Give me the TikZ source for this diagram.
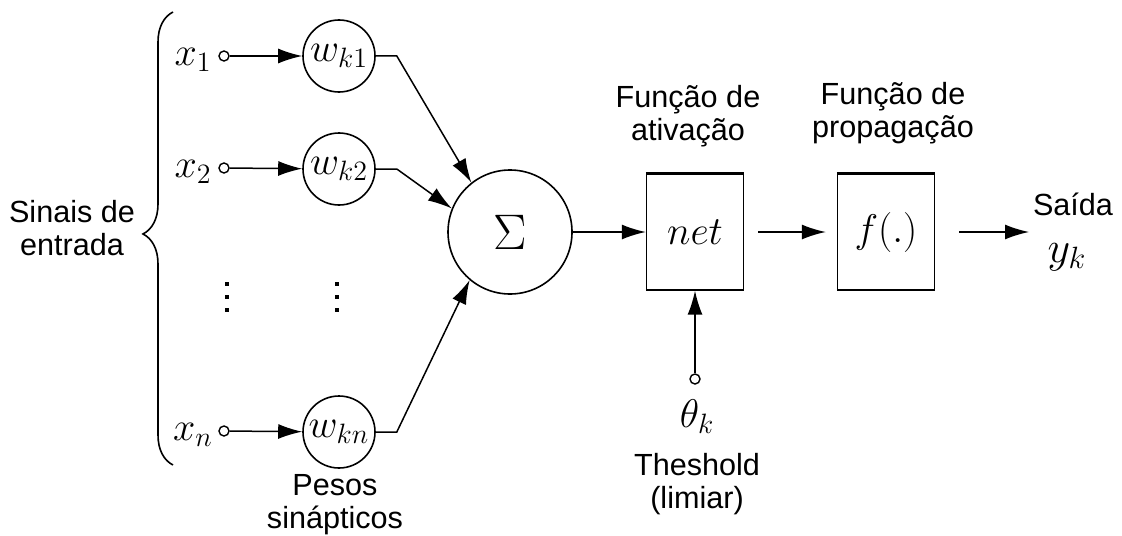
\documentclass[tikz,border=0pt]{standalone}
\usepackage{fix-cm}
\usepackage[no-math]{fontspec}
\newfontfamily\arialfont{Liberation Sans}
\usepackage{tikz}
\usetikzlibrary{shapes, arrows.meta, positioning, decorations.pathreplacing}

\begin{document}
\begin{tikzpicture}
  [
    x=0.5pt, y=-0.5pt,
    Weight/.style={circle, draw=black, line width=0.8pt, minimum size=36pt, inner sep=0pt},
    Sum/.style={circle, draw=black, line width=0.8pt, minimum size=62pt, inner sep=0pt},
    Box/.style={rectangle, draw=black, line width=0.7pt, minimum width=48.5pt, minimum height=58pt},
    Input/.style={circle, draw=black, line width=0.7pt, minimum size=5pt, inner sep=0pt},
    Label/.style={font=\arialfont\fontsize{15.3}{16.5}\selectfont, align=center, inner sep=0pt},
    Sym/.style={font=\fontsize{20}{20}\selectfont, inner sep=0pt},
    Arrow/.style={-{Latex[length=12pt, width=7.5pt]}, draw, line width=0.75pt}
  ]
  \useasboundingbox (0,0) rectangle (1122,535);
  % Nodes
  \node[Label] (sinais) at (72, 228) {Sinais de\\entrada};
  \node[Sym] (x1) at (193, 60) {$x_1$};
  \node[Sym] (x2) at (193, 172) {$x_2$};
  \node[Sym] (xn) at (193, 435) {$x_n$};
  \node[Input] (in1) at (224, 56) {};
  \node[Input] (in2) at (224, 168) {};
  \node[Input] (inn) at (224, 431) {};
  \node[Weight, Sym] (w1) at (339, 56) {$w_{k1}$};
  \node[Weight, Sym] (w2) at (339, 169) {$w_{k2}$};
  \node[Weight, Sym] (wn) at (339, 432) {$w_{kn}$};
  \node[Label] (pesos) at (335, 505) {Pesos\\sinápticos};
  \node[Sum, font=\fontsize{25}{25}\selectfont] (sum) at (510, 232) {$\Sigma$};
  \node[Box, Sym] (net) at (695, 232) {$net$};
  \node[Box, Sym] (f) at (886, 232) {$f(.)$};
  \node[Label] (ativacao) at (688, 116) {Função de\\ativação};
  \node[Label] (propagacao) at (893, 113) {Função de\\propagação};
  \node[Input] (thetain) at (695, 379) {};
  \node[Sym] (theta) at (697, 417) {$\theta_k$};
  \node[Label] (limiar) at (697, 484) {Theshold\\(limiar)};
  \node[Label] (saida) at (1073, 204) {Saída};
  \node[Sym, font=\fontsize{22}{22}\selectfont] (yk) at (1067, 257) {$y_k$};
  \coordinate (out) at (1029, 232);
  % Brace and dots
  \draw[decorate, decoration={brace, amplitude=15pt, aspect=0.51}, line width=0.8pt]
    (173, 465) -- (173, 12);
  \foreach \dx in {227, 337}
    \foreach \dy in {284, 297, 310}
      \fill (\dx-2, \dy-2) rectangle ++(4, 4);
  \draw[line width=1.5pt] (net.north west) -- (net.north east);
  \draw[line width=1.5pt] (f.north west) -- (f.north east);
  % Lines
  \path[Arrow] (in1) -- (w1);
  \path[Arrow] (in2) -- (w2);
  \path[Arrow] (inn) -- (wn);
  \path[Arrow] (w1.east) -- ++(21, 0) -- (sum.128);
  \path[Arrow] (w2.east) -- ++(21, 0) -- (sum.158);
  \path[Arrow] (wn.east) -- ++(21, 0) -- (sum.230);
  \path[Arrow] (sum) -- (net);
  \path[Arrow] (thetain) -- (net);
  \path[Arrow, shorten <=7pt, shorten >=5.5pt] (net) -- (f);
  \path[Arrow, shorten <=12pt] (f.east) -- (out);
\end{tikzpicture}
\end{document}
